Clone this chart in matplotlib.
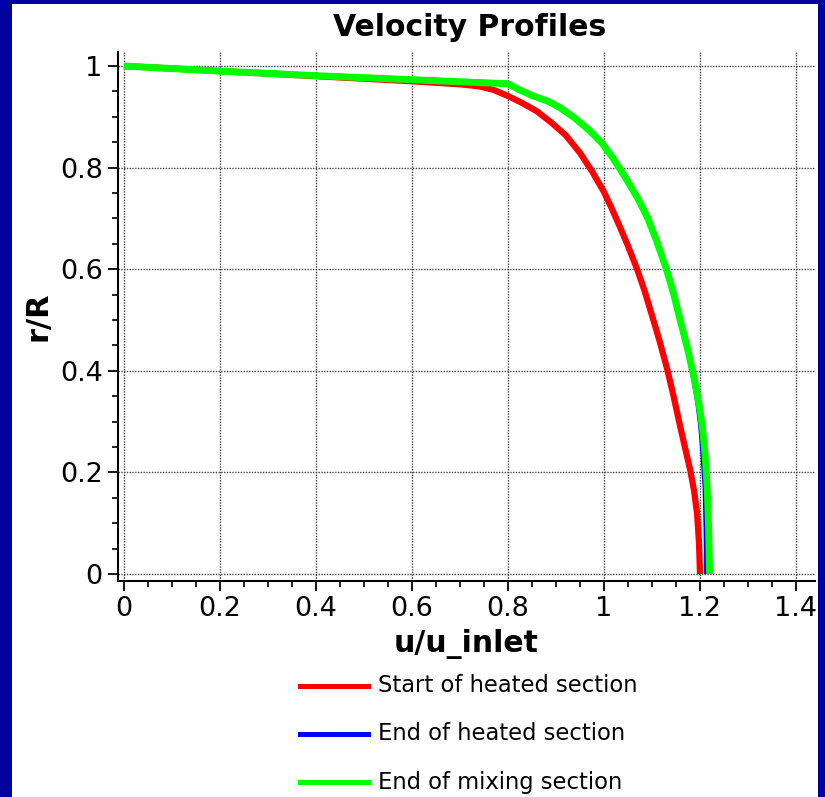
import matplotlib
matplotlib.use("Agg")
import matplotlib.pyplot as plt
from matplotlib.lines import Line2D
from matplotlib.patches import Rectangle
from matplotlib.ticker import MultipleLocator

# values (u/u_inlet, r/R)
red_u = [0.0, 0.2, 0.4, 0.6, 0.70, 0.74, 0.77, 0.80, 0.83, 0.86, 0.89, 0.92, 0.95,
         0.975, 1.0, 1.015, 1.031, 1.05, 1.069, 1.085, 1.10, 1.116, 1.132, 1.145,
         1.156, 1.168, 1.18, 1.188, 1.194, 1.198, 1.20]
red_r = [1.0, 0.990, 0.980, 0.970, 0.964, 0.960, 0.953, 0.941, 0.927, 0.911, 0.889,
         0.864, 0.829, 0.793, 0.752, 0.722, 0.688, 0.646, 0.600, 0.556, 0.509, 0.458,
         0.402, 0.350, 0.302, 0.252, 0.203, 0.162, 0.118, 0.060, 0.0]

green_u = [0.0, 0.2, 0.4, 0.6, 0.8, 0.82, 0.85, 0.885, 0.91, 0.94, 0.97, 0.996, 1.02,
           1.045, 1.07, 1.09, 1.11, 1.13, 1.145, 1.16, 1.175, 1.188, 1.198, 1.205,
           1.211, 1.215, 1.218, 1.22]
green_r = [1.0, 0.990, 0.981, 0.973, 0.965, 0.955, 0.942, 0.930, 0.917, 0.897, 0.873,
           0.848, 0.817, 0.780, 0.740, 0.703, 0.655, 0.600, 0.552, 0.495, 0.440, 0.385,
           0.335, 0.290, 0.230, 0.170, 0.090, 0.0]

blue_u = [0.0, 0.2, 0.4, 0.6, 0.8, 0.82, 0.85, 0.885, 0.91, 0.94, 0.97, 0.996, 1.02,
          1.045, 1.07, 1.09, 1.11, 1.13, 1.145, 1.16, 1.173, 1.185, 1.194, 1.200,
          1.205, 1.209, 1.211, 1.212]
blue_r = [1.0, 0.990, 0.981, 0.973, 0.965, 0.955, 0.942, 0.930, 0.917, 0.897, 0.873,
          0.848, 0.817, 0.780, 0.740, 0.703, 0.655, 0.600, 0.552, 0.495, 0.440, 0.385,
          0.335, 0.290, 0.230, 0.170, 0.090, 0.0]

labels = ["Start of heated section", "End of heated section", "End of mixing section"]
colors = ["#ff0000", "#0000ff", "#00ff00"]

W, H = 825, 797
fig = plt.figure(figsize=(W / 100, H / 100), dpi=100)
fig.patch.set_facecolor("#00009c")
fig.patches.append(Rectangle((12 / W, 0), 806 / W, (H - 4) / H,
                             transform=fig.transFigure, facecolor="white",
                             edgecolor="none", zorder=-10))

ax = fig.add_axes([118 / W, 1 - 581 / H, (815 - 118) / W, (581 - 52) / H])
ax.set_facecolor("none")

ax.plot(red_u, red_r, color=colors[0], lw=4.5, solid_capstyle="butt",
        solid_joinstyle="round", zorder=3)
ax.plot(blue_u, blue_r, color=colors[1], lw=2.5, solid_capstyle="butt",
        solid_joinstyle="round", zorder=4)
ax.plot(green_u, green_r, color=colors[2], lw=5, solid_capstyle="butt",
        solid_joinstyle="round", zorder=5)

ax.set_xlim(-0.0125, 1.4396)
ax.set_ylim(-0.0138, 1.0276)
ax.xaxis.set_minor_locator(MultipleLocator(0.05))
ax.yaxis.set_minor_locator(MultipleLocator(0.05))
ax.set_xticks([0, 0.2, 0.4, 0.6, 0.8, 1.0, 1.2, 1.4])
ax.set_xticklabels(["0", "0.2", "0.4", "0.6", "0.8", "1", "1.2", "1.4"])
ax.set_yticks([0, 0.2, 0.4, 0.6, 0.8, 1.0])
ax.set_yticklabels(["0", "0.2", "0.4", "0.6", "0.8", "1"])

for s in ["top", "right"]:
    ax.spines[s].set_visible(False)
for s in ["left", "bottom"]:
    ax.spines[s].set_linewidth(1.5)

ax.tick_params(which="major", length=7, width=1.3, labelsize=19.5, pad=4)
ax.tick_params(which="minor", length=4, width=1.2)
ax.grid(True, which="major", color="#444444", linestyle=(0, (1, 1)), lw=1.0)

ax.set_xlabel("u/u_inlet", fontsize=21.5, fontweight="bold", labelpad=5)
ax.set_ylabel("r/R", fontsize=22, fontweight="bold", labelpad=5)
fig.text(470 / W, 1 - 28 / H, "Velocity Profiles", fontsize=21.5,
         fontweight="bold", ha="center", va="center")

# legend below the axes
rows = [686, 734, 782]
for lab, c, y in zip(labels, colors, rows):
    fig.add_artist(Line2D([300 / W, 368 / W], [1 - y / H, 1 - y / H],
                          transform=fig.transFigure, color=c, lw=3.6))
    fig.text(378 / W, 1 - y / H, lab, fontsize=16.3, ha="left", va="center")

fig.savefig("out.png", dpi=100, facecolor=fig.get_facecolor())
